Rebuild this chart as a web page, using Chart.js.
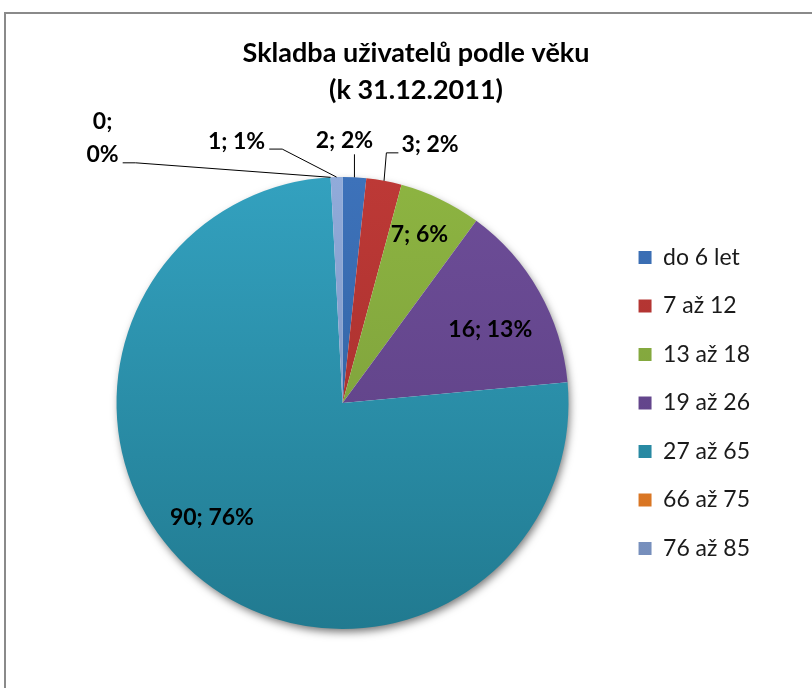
<!DOCTYPE html>
<html>
<head>
<meta charset="utf-8">
<script src="https://cdn.jsdelivr.net/npm/chart.js@4/dist/chart.umd.min.js"></script>
<style>
  body { margin: 0; background: #fff; overflow: hidden; width: 812px; height: 688px; position: relative; }
  .frame { position: absolute; left: 4px; top: 12px; width: 900px; height: 800px; border: 2px solid #8a8a8a; }
  canvas { position: absolute; left: 0; top: 0; }
</style>
</head>
<body>
<div class="frame"></div>
<canvas id="pie-chart" width="812" height="688"></canvas>
<script>
// data
const categories = ["do 6 let", "7 až 12", "13 až 18", "19 až 26", "27 až 65", "66 až 75", "76 až 85"];
const counts = [2, 3, 7, 16, 90, 0, 1];
const percentLabels = ["2%", "2%", "6%", "13%", "76%", "0%", "1%"];
const titleLines = ["Skladba uživatelů podle věku", "(k 31.12.2011)"];

// light (top) and dark (bottom) tone of every slice
const topColors = ["#3d72ba", "#bd3936", "#8db441", "#6d4d98", "#33a1bf", "#f39035", "#91abda"];
const bottomColors = ["#2d5b97", "#9e2c2a", "#76973a", "#5a3e80", "#217a90", "#cf6c1d", "#7189b6"];

function sliceColor(ctx) {
  const chart = ctx.chart;
  const i = ctx.dataIndex;
  const area = chart.chartArea;
  if (!area || i === undefined) return topColors[i] || "#888";
  const g = chart.ctx.createLinearGradient(0, area.top, 0, area.bottom);
  g.addColorStop(0, topColors[i]);
  g.addColorStop(1, bottomColors[i]);
  return g;
}

// soft shadow under the whole pie
const pieShadow = {
  id: "pieShadow",
  beforeDatasetsDraw(chart) {
    const arc = chart.getDatasetMeta(0).data[0];
    if (!arc) return;
    const { x, y, outerRadius } = arc.getProps(["x", "y", "outerRadius"], true);
    const c = chart.ctx;
    c.save();
    c.shadowColor = "rgba(0,0,0,0.55)";
    c.shadowBlur = 9;
    c.shadowOffsetX = 2;
    c.shadowOffsetY = 4;
    c.fillStyle = "#ffffff";
    c.beginPath();
    c.arc(x, y, outerRadius - 1, 0, Math.PI * 2);
    c.fill();
    c.restore();
  },
};

// "value; percent" labels, inside or outside with leader lines
const sliceLabels = {
  id: "sliceLabels",
  afterDatasetsDraw(chart, args, opts) {
    const c = chart.ctx;
    const meta = chart.getDatasetMeta(0);
    c.save();
    c.font = opts.font;
    c.fillStyle = "#000";
    c.strokeStyle = "#000";
    c.lineWidth = 1;
    c.textAlign = "center";
    c.textBaseline = "middle";
    meta.data.forEach((arc, i) => {
      const p = arc.getProps(["x", "y", "startAngle", "endAngle", "outerRadius"], true);
      const place = opts.place[i];
      const mid = (p.startAngle + p.endAngle) / 2;
      const lines = place.wrap
        ? [counts[i] + ";", percentLabels[i]]
        : [counts[i] + "; " + percentLabels[i]];
      const lh = opts.lineHeight;
      let cx, cy;
      if (!place.out) {
        const a = mid + (place.da || 0) * Math.PI / 180;
        const r = p.outerRadius * place.rf;
        cx = p.x + Math.cos(a) * r;
        cy = p.y + Math.sin(a) * r;
      } else {
        const ax = p.x + Math.cos(mid) * p.outerRadius;
        const ay = p.y + Math.sin(mid) * p.outerRadius;
        cx = ax + place.dx;
        cy = ay + place.dy;
        const w = Math.max(...lines.map(t => c.measureText(t).width));
        const lastY = cy + (lines.length - 1) * lh / 2;
        const endY = lastY + 8;
        c.beginPath();
        c.moveTo(ax, ay);
        if (ax >= cx - w / 2 && ax <= cx + w / 2) {
          c.lineTo(ax, lastY + 14);
        } else if (ax > cx) {
          const edge = cx + w / 2 + 4;
          c.lineTo(edge + 13, endY);
          c.lineTo(edge, endY);
        } else {
          const edge = cx - w / 2 - 3;
          c.lineTo(edge - 12, endY);
          c.lineTo(edge, endY);
        }
        c.stroke();
      }
      lines.forEach((t, k) => {
        c.fillText(t, cx, cy + (k - (lines.length - 1) / 2) * lh);
      });
    });
    c.restore();
  },
};

const data = {
  labels: categories,
  datasets: [
    {
      data: counts,
      backgroundColor: sliceColor,
      borderWidth: 0,
    },
  ],
};

const config = {
  type: "pie",
  data: data,
  plugins: [pieShadow, sliceLabels],
  options: {
    responsive: false,
    animation: false,
    maintainAspectRatio: false,
    layout: {
      padding: { left: 72, right: 52, top: 10, bottom: 59 },
    },
    plugins: {
      title: {
        display: true,
        text: titleLines,
        color: "#000",
        font: { family: "Lato", size: 27, weight: "bold", lineHeight: "37px" },
        padding: { top: 25, bottom: 68 },
      },
      legend: {
        display: true,
        position: "right",
        fullSize: false,
        labels: {
          color: "#1a1a1a",
          font: { family: "Lato", size: 23 },
          boxWidth: 13,
          boxHeight: 13,
          padding: 25.5,
        },
      },
      tooltip: { enabled: false },
      sliceLabels: {
        font: "bold 23px Lato",
        lineHeight: 33,
        place: [
          { out: true, dx: -10, dy: -37 },
          { out: true, dx: 46, dy: -36 },
          { rf: 0.82, da: -1.2 },
          { rf: 0.73, da: 3.1 },
          { rf: 0.77, da: 7.8 },
          { out: true, dx: -228, dy: -39, wrap: true },
          { out: true, dx: -100, dy: -36 },
        ],
      },
    },
  },
};

new Chart(document.getElementById("pie-chart").getContext("2d"), config);
</script>
</body>
</html>
